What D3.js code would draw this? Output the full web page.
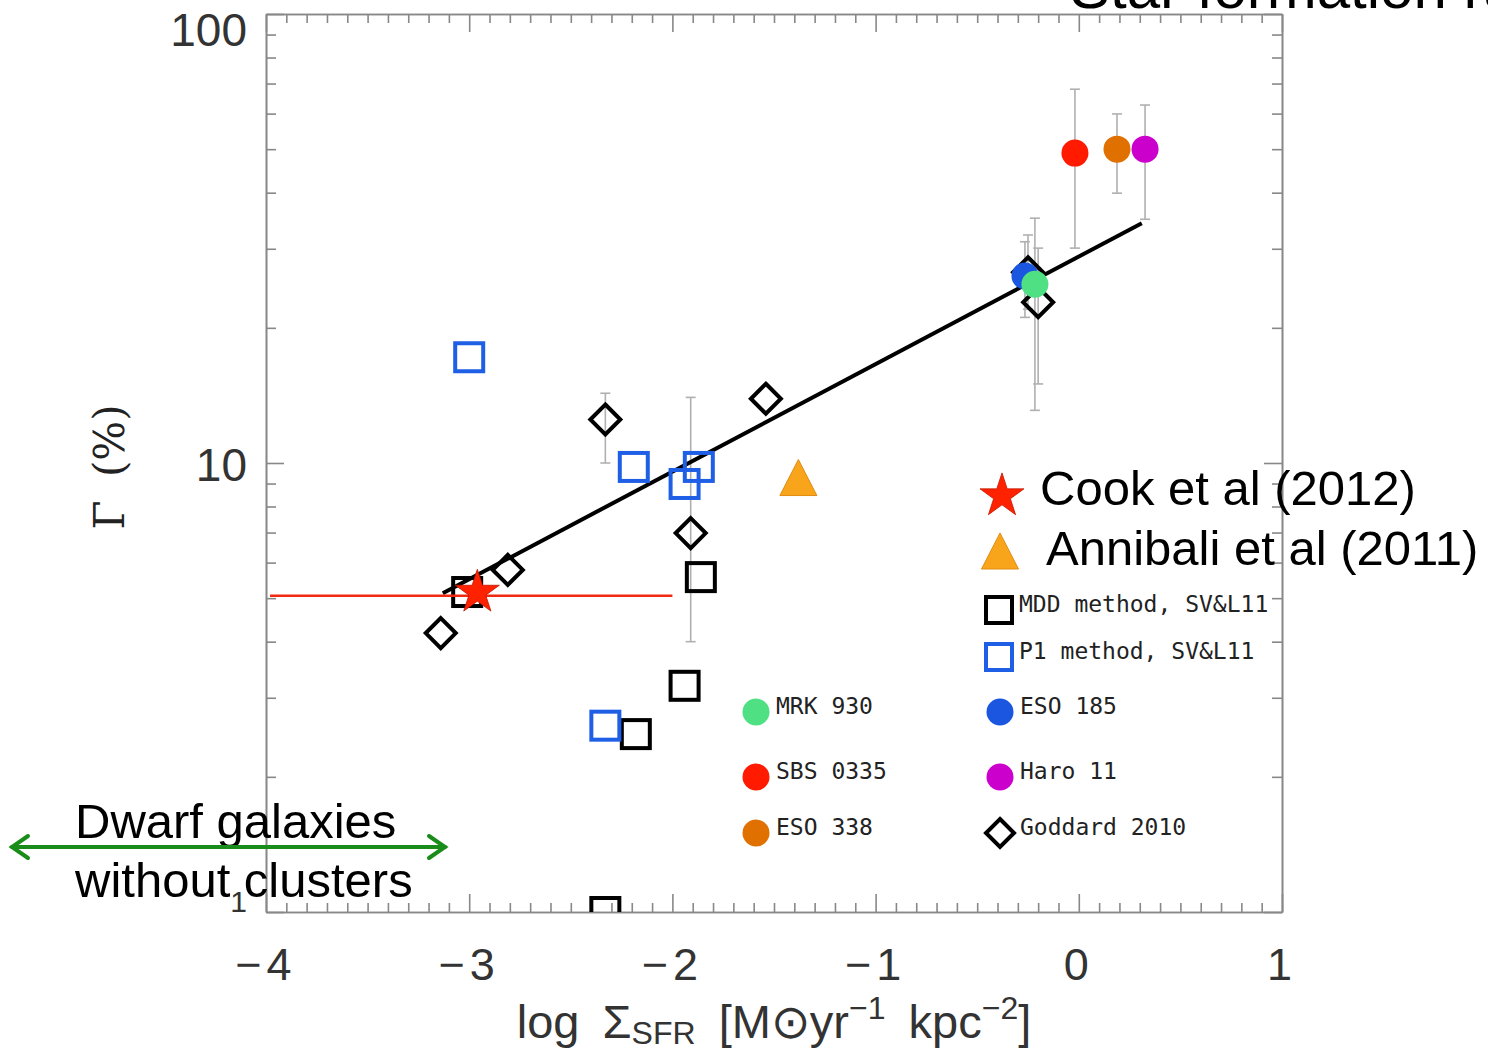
<!DOCTYPE html>
<html>
<head>
<meta charset="utf-8">
<script src="https://cdn.jsdelivr.net/npm/d3@7/dist/d3.min.js"></script>
<style>
  html, body { margin: 0; padding: 0; background: #fff; }
  svg { display: block; }
</style>
</head>
<body>
<div id="chart-area"></div>
<script>
// Data
var goddardX = [-3.14, -2.81, -2.33, -1.91, -1.54, -0.25, -0.20];
var goddardY = [4.18, 5.78, 12.5, 6.98, 13.9, 26.6, 22.8];
var goddardLo = [null, null, 10.0, 4.0, null, 22.0, 15.0];
var goddardHi = [null, null, 14.3, 14.0, null, 32.2, 30.1];

var mddX = [-3.01, -1.86, -1.94, -2.18, -2.33];
var mddY = [5.16, 5.57, 3.19, 2.49, 1.0];

var p1X = [-3.00, -2.19, -1.94, -1.87, -2.33];
var p1Y = [17.2, 9.8, 8.98, 9.8, 2.6];

var galaxyNames = ["ESO 185", "MRK 930", "SBS 0335", "ESO 338", "Haro 11"];
var galaxyX = [-0.265, -0.216, -0.019, 0.188, 0.326];
var galaxyY = [26.1, 25.0, 49.0, 50.0, 50.0];
var galaxyLo = [21.1, 13.1, 30.1, 39.9, 34.9];
var galaxyHi = [31.1, 35.1, 68.0, 59.9, 62.7];
var galaxyColors = ["#1a56e0", "#4ee082", "#ff1a00", "#e07000", "#cc00cc"];

var fitX = [-3.13, 0.31];
var fitY = [5.13, 34.2];

var cookX = [-2.96];
var cookY = [5.15];
var cookRangeX = [-3.98, -2.00];
var cookRangeY = [5.06, 5.06];

var annibaliX = [-1.38];
var annibaliY = [9.0];

var xTicks = [-4, -3, -2, -1, 0, 1];
var xTickLabels = ["\u22124", "\u22123", "\u22122", "\u22121", "0", "1"];
var yTicks = [1, 10, 100];
var yTickLabels = ["1", "10", "100"];

var margin = { left: 266, right: 206, top: 14, bottom: 138 },
    width = 1488 - margin.left - margin.right,
    height = 1050 - margin.top - margin.bottom;

var svg = d3.select("#chart-area")
    .append("svg")
    .attr("width", 1488)
    .attr("height", 1050);

var g = svg.append("g")
    .attr("transform", "translate(" + margin.left + "," + margin.top + ")");

// Scales
var x = d3.scaleLinear().domain([-4, 1]).range([0, width]);
var y = d3.scaleLog().domain([1, 100]).range([height, 0]);

var xMinor = d3.range(-40, 11).map(function(d){ return d / 10; })
    .filter(function(d){ return Math.abs(d - Math.round(d)) > 1e-6; });
var yMinor = [2,3,4,5,6,7,8,9,20,30,40,50,60,70,80,90];

// Axes (ticks point inward, IDL style)
function drawAxis(axisFn, scale, vals, size, tr) {
    var a = g.append("g")
        .attr("transform", tr)
        .call(axisFn(scale).tickValues(vals).tickSize(-size).tickSizeOuter(0).tickFormat(""));
    a.select(".domain").attr("stroke", "#888").attr("stroke-width", 1.6);
    a.selectAll(".tick line").attr("stroke", "#888").attr("stroke-width", 1.6);
    return a;
}
drawAxis(d3.axisBottom, x, xMinor, 9, "translate(0," + height + ")");
drawAxis(d3.axisBottom, x, xTicks, 18, "translate(0," + height + ")");
drawAxis(d3.axisTop, x, xMinor, 9, "translate(0,0)");
drawAxis(d3.axisTop, x, xTicks, 18, "translate(0,0)");
drawAxis(d3.axisLeft, y, yMinor, 10, "translate(0,0)");
drawAxis(d3.axisLeft, y, yTicks, 18, "translate(0,0)");
drawAxis(d3.axisRight, y, yMinor, 10, "translate(" + width + ",0)");
drawAxis(d3.axisRight, y, yTicks, 18, "translate(" + width + ",0)");

// Tick labels
g.selectAll(".xlab")
    .data(xTicks)
    .enter().append("text")
    .attr("class", "xlab")
    .attr("x", function(d){ return x(d); })
    .attr("y", height + 68)
    .attr("text-anchor", "middle")
    .attr("font-family", "Liberation Sans, Arial, sans-serif")
    .attr("font-size", "45px")
    .attr("letter-spacing", "5px")
    .attr("fill", "#333")
    .text(function(d, i){ return xTickLabels[i]; });

g.selectAll(".ylab")
    .data(yTicks)
    .enter().append("text")
    .attr("class", "ylab")
    .attr("x", -19)
    .attr("y", function(d){ return Math.min(Math.max(y(d) + 18, 32), height); })
    .attr("text-anchor", "end")
    .attr("font-family", "Liberation Sans, Arial, sans-serif")
    .attr("font-size", function(d){ return d == 1 ? "30px" : "46px"; })
    .attr("fill", "#333")
    .text(function(d, i){ return yTickLabels[i]; });

// Axis titles
var xt = g.append("text")
    .attr("x", width / 2)
    .attr("y", height + 126)
    .attr("text-anchor", "middle")
    .attr("font-family", "Liberation Sans, Arial, sans-serif")
    .attr("font-size", "47px")
    .attr("fill", "#333")
    .attr("word-spacing", "10px");
xt.append("tspan").text("log  \u03A3");
xt.append("tspan").attr("font-size", "32px").attr("dy", 6).text("SFR");
xt.append("tspan").attr("dy", -6).text(" [M\u2299yr");
xt.append("tspan").attr("font-size", "32px").attr("dy", -19).text("\u22121");
xt.append("tspan").attr("dy", 19).text(" kpc");
xt.append("tspan").attr("font-size", "32px").attr("dy", -19).text("\u22122");
xt.append("tspan").attr("dy", 19).text("]");

g.append("text")
    .attr("transform", "translate(-142," + (y(10) + 4) + ") rotate(-90)")
    .attr("text-anchor", "middle")
    .attr("font-family", "DejaVu Serif, serif")
    .attr("font-size", "42px")
    .attr("fill", "#222")
    .attr("word-spacing", "10px")
    .text("\u0393 (%)");

// Data layer, clipped to the frame
svg.append("clipPath").attr("id", "clip")
    .append("rect").attr("width", width).attr("height", height);
var plot = g.append("g").attr("clip-path", "url(#clip)");

// Error bars
var errs = [];
goddardX.forEach(function(d, i){
    if (goddardLo[i] != null) errs.push({ x: d, lo: goddardLo[i], hi: goddardHi[i] });
});
galaxyX.forEach(function(d, i){
    errs.push({ x: d, lo: galaxyLo[i], hi: galaxyHi[i] });
});
var eb = plot.selectAll(".err").data(errs).enter().append("g").attr("class", "err")
    .attr("stroke", "#b0b0b0").attr("stroke-width", 1.6);
eb.append("line")
    .attr("x1", function(d){ return x(d.x); }).attr("x2", function(d){ return x(d.x); })
    .attr("y1", function(d){ return y(d.lo); }).attr("y2", function(d){ return y(d.hi); });
eb.append("line")
    .attr("x1", function(d){ return x(d.x) - 5; }).attr("x2", function(d){ return x(d.x) + 5; })
    .attr("y1", function(d){ return y(d.lo); }).attr("y2", function(d){ return y(d.lo); });
eb.append("line")
    .attr("x1", function(d){ return x(d.x) - 5; }).attr("x2", function(d){ return x(d.x) + 5; })
    .attr("y1", function(d){ return y(d.hi); }).attr("y2", function(d){ return y(d.hi); });

// Fit line
var line = d3.line()
    .x(function(d){ return x(d[0]); })
    .y(function(d){ return y(d[1]); });
plot.append("path")
    .attr("d", line(d3.zip(fitX, fitY)))
    .attr("fill", "none")
    .attr("stroke", "#000")
    .attr("stroke-width", 4);

var diamond = "M0,-15L15,0L0,15L-15,0Z";

// Goddard 2010 diamonds
plot.selectAll(".godd")
    .data(d3.zip(goddardX, goddardY))
    .enter().append("path")
    .attr("class", "godd")
    .attr("d", diamond)
    .attr("transform", function(d){ return "translate(" + x(d[0]) + "," + y(d[1]) + ")"; })
    .attr("fill", "none")
    .attr("stroke", "#000")
    .attr("stroke-width", 4);

// MDD squares
plot.selectAll(".mdd")
    .data(d3.zip(mddX, mddY))
    .enter().append("rect")
    .attr("class", "mdd")
    .attr("x", function(d){ return x(d[0]) - 14; })
    .attr("y", function(d){ return y(d[1]) - 14; })
    .attr("width", 28).attr("height", 28)
    .attr("fill", "none")
    .attr("stroke", "#000")
    .attr("stroke-width", 4);

// P1 squares
plot.selectAll(".p1")
    .data(d3.zip(p1X, p1Y))
    .enter().append("rect")
    .attr("class", "p1")
    .attr("x", function(d){ return x(d[0]) - 14; })
    .attr("y", function(d){ return y(d[1]) - 14; })
    .attr("width", 28).attr("height", 28)
    .attr("fill", "none")
    .attr("stroke", "#1f5fe6")
    .attr("stroke-width", 4);

// Galaxies
plot.selectAll(".gal")
    .data(galaxyNames)
    .enter().append("circle")
    .attr("class", "gal")
    .attr("cx", function(d, i){ return x(galaxyX[i]); })
    .attr("cy", function(d, i){ return y(galaxyY[i]); })
    .attr("r", 13.5)
    .attr("fill", function(d, i){ return galaxyColors[i]; });

// Cook et al range + star
plot.append("path")
    .attr("d", line(d3.zip(cookRangeX, cookRangeY)))
    .attr("stroke", "#f02a10")
    .attr("stroke-width", 2.5)
    .attr("fill", "none");

var star = d3.symbol().type(d3.symbolStar).size(600);
plot.selectAll(".cook")
    .data(d3.zip(cookX, cookY))
    .enter().append("path")
    .attr("class", "cook")
    .attr("d", star)
    .attr("transform", function(d){ return "translate(" + x(d[0]) + "," + y(d[1]) + ")"; })
    .attr("fill", "#ff2200")
    .attr("stroke", "#c01800")
    .attr("stroke-width", 0.8);

// Annibali triangle
var tri = "M0,-24L18.5,12L-18.5,12Z";
plot.selectAll(".ann")
    .data(d3.zip(annibaliX, annibaliY))
    .enter().append("path")
    .attr("class", "ann")
    .attr("d", tri)
    .attr("transform", function(d){ return "translate(" + x(d[0]) + "," + y(d[1]) + ")"; })
    .attr("fill", "#f8a51c")
    .attr("stroke", "#e08c10")
    .attr("stroke-width", 1);

// IDL legend
var leg = svg.append("g")
    .attr("font-family", "DejaVu Sans Mono, monospace")
    .attr("font-size", "23px")
    .attr("fill", "#222");

var legItems = [
    { kind: "sq", color: "#000", x: 999, y: 610, label: "MDD method, SV&L11" },
    { kind: "sq", color: "#1f5fe6", x: 999, y: 657, label: "P1 method, SV&L11" },
    { kind: "c", color: galaxyColors[1], x: 756, y: 712, label: galaxyNames[1] },
    { kind: "c", color: galaxyColors[0], x: 1000, y: 712, label: galaxyNames[0] },
    { kind: "c", color: galaxyColors[2], x: 756, y: 777, label: galaxyNames[2] },
    { kind: "c", color: galaxyColors[4], x: 1000, y: 777, label: galaxyNames[4] },
    { kind: "c", color: galaxyColors[3], x: 756, y: 833, label: galaxyNames[3] },
    { kind: "d", color: "#000", x: 1000, y: 833, label: "Goddard 2010" }
];
legItems.forEach(function(d){
    if (d.kind == "sq") {
        leg.append("rect").attr("x", d.x - 13).attr("y", d.y - 13)
            .attr("width", 26).attr("height", 26)
            .attr("fill", "none").attr("stroke", d.color).attr("stroke-width", 4);
    } else if (d.kind == "c") {
        leg.append("circle").attr("cx", d.x).attr("cy", d.y).attr("r", 13.5).attr("fill", d.color);
    } else {
        leg.append("path").attr("d", "M0,-14L14,0L0,14L-14,0Z")
            .attr("transform", "translate(" + d.x + "," + d.y + ")")
            .attr("fill", "none").attr("stroke", d.color).attr("stroke-width", 4);
    }
    leg.append("text").attr("x", d.x + 20).attr("y", d.y + 2).text(d.label);
});

// Slide annotations
var ann = svg.append("g")
    .attr("font-family", "Liberation Sans, Arial, sans-serif")
    .attr("font-size", "49px")
    .attr("fill", "#000");

ann.append("path").attr("d", star).attr("transform", "translate(1002,496)")
    .attr("fill", "#ff2200").attr("stroke", "#c01800").attr("stroke-width", 0.8);
ann.append("text").attr("x", 1040).attr("y", 505).text("Cook et al (2012)");
ann.append("path").attr("d", tri).attr("transform", "translate(1000,557)")
    .attr("fill", "#f8a51c").attr("stroke", "#e08c10").attr("stroke-width", 1);
ann.append("text").attr("x", 1046).attr("y", 565).text("Annibali et al (2011)");

ann.append("text").attr("x", 1070).attr("y", 8).attr("font-size", "60px").text("Star formation rate");

// Green double arrow
var arrow = svg.append("g")
    .attr("stroke", "#1a8c1a")
    .attr("stroke-width", 4)
    .attr("fill", "none")
    .attr("stroke-linecap", "round");
arrow.append("line").attr("x1", 12).attr("x2", 445).attr("y1", 847).attr("y2", 847);
arrow.append("path").attr("d", "M28,836L12,847L28,858");
arrow.append("path").attr("d", "M429,836L445,847L429,858");

ann.append("text").attr("x", 75).attr("y", 838).text("Dwarf galaxies");
ann.append("text").attr("x", 75).attr("y", 897).text("without clusters");
</script>
</body>
</html>
